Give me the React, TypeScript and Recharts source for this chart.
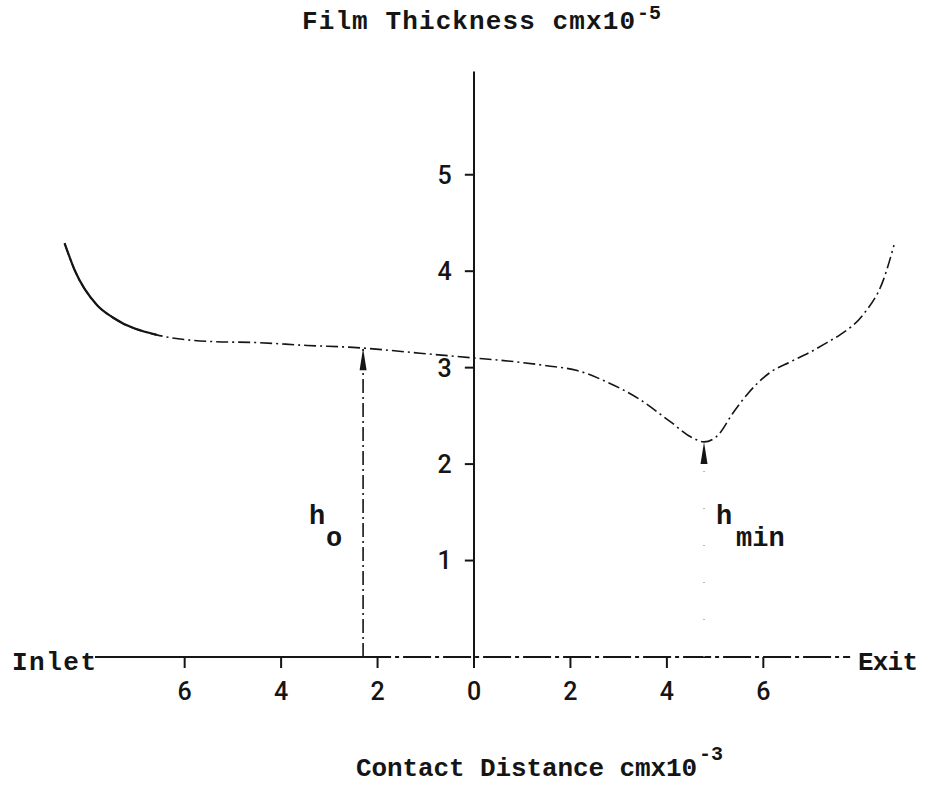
import React from 'react';
import { ComposedChart, Line, Scatter, XAxis, YAxis, ReferenceLine } from 'recharts';

// contact distance (cm x 10^-3, inlet side negative) and film thickness (cm x 10^-5)
const profileX = [
  -8.49, -8.28, -7.82, -7.49, -6.58, -5.41, -4.5, -3.46, -2.51, -1.12, 0,
  0.48, 1.51, 2.14, 2.76, 3.44, 4.07, 4.54, 4.77, 5.06, 5.37, 5.66, 6.14,
  6.56, 6.97, 7.32, 7.59, 8.07, 8.49, 8.71,
];
const profileH = [
  4.29, 4.01, 3.65, 3.52, 3.34, 3.27, 3.26, 3.23, 3.21, 3.15, 3.1,
  3.08, 3.02, 2.97, 2.85, 2.67, 2.44, 2.27, 2.23, 2.3, 2.53, 2.72, 2.95,
  3.06, 3.16, 3.26, 3.34, 3.55, 3.91, 4.27,
];

const xTicks = [-6, -4, -2, 0, 2, 4, 6];
const yTicks = [1, 2, 3, 4, 5];

// h_o at the inlet plateau, h_min at the exit constriction
const hoX = -2.3;
const hoH = 3.2;
const hminX = 4.77;
const hminH = 2.23;

const axisStart = -7.86;
const axisEnd = 7.8;
const axisTop = 6.07;

const W = 926;
const H = 798;
const INK = '#151515';
const MONO = "'Liberation Mono', 'DejaVu Sans Mono', monospace";
const DIGITS = "Roboto, 'Liberation Sans', sans-serif";

const profile = profileX.map((x, i) => ({ x, h: profileH[i] }));
const leadIn = profile.slice(0, 5);
const arrowTips = [
  { x: hoX, h: hoH },
  { x: hminX, h: hminH },
];

const ArrowHead = (props: any) => {
  const { cx, cy } = props;
  return <path d={`M${cx},${cy} L${cx + 3.5},${cy + 22} L${cx - 3.5},${cy + 22} Z`} fill={INK} />;
};

export default function App() {
  return (
    <div style={{ position: 'absolute', left: 0, top: 0, width: W, height: H, background: '#fff' }}>
      <ComposedChart width={W} height={H} margin={{ top: 59, right: 18, bottom: 0, left: 40 }}>
        <XAxis
          type="number"
          dataKey="x"
          domain={[-9, 9]}
          ticks={xTicks}
          interval={0}
          height={141}
          axisLine={false}
          tickLine={{ stroke: INK, strokeWidth: 2 }}
          tickSize={11}
          tickMargin={14}
          tickFormatter={(v: number) => String(Math.abs(v))}
          tick={{ fill: INK, fontSize: 25, fontFamily: DIGITS, fontWeight: 500 }}
        />
        <YAxis type="number" domain={[0, 6.2]} hide />

        <ReferenceLine segment={[{ x: axisStart, y: 0 }, { x: hoX, y: 0 }]} stroke={INK} strokeWidth={2.2} />
        <ReferenceLine
          segment={[{ x: hoX, y: 0 }, { x: axisEnd, y: 0 }]}
          stroke={INK}
          strokeWidth={2}
          strokeDasharray="28 4 4 4"
        />
        <ReferenceLine segment={[{ x: 0, y: 0 }, { x: 0, y: axisTop }]} stroke={INK} strokeWidth={2} />
        {yTicks.map((v) => (
          <ReferenceLine
            key={v}
            segment={[{ x: -0.19, y: v }, { x: 0, y: v }]}
            stroke={INK}
            strokeWidth={2}
            label={{ value: String(v), position: 'left', offset: 13, fill: INK, fontSize: 25, fontFamily: DIGITS, fontWeight: 500 }}
          />
        ))}

        <ReferenceLine
          segment={[{ x: hoX, y: 0 }, { x: hoX, y: hoH }]}
          stroke={INK}
          strokeWidth={1.6}
          strokeDasharray="14 4 2 4"
        />
        <ReferenceLine
          segment={[{ x: hminX, y: 0 }, { x: hminX, y: hminH - 0.2 }]}
          stroke="#9a9a9a"
          strokeWidth={1.4}
          strokeDasharray="1 36"
        />

        <Line
          data={profile}
          dataKey="h"
          type="monotone"
          stroke={INK}
          strokeWidth={1.6}
          strokeDasharray="12 4 2 4"
          dot={false}
          isAnimationActive={false}
        />
        <Line
          data={leadIn}
          dataKey="h"
          type="monotone"
          stroke={INK}
          strokeWidth={2.2}
          dot={false}
          isAnimationActive={false}
        />
        <Scatter data={arrowTips} dataKey="h" shape={ArrowHead} isAnimationActive={false} />
      </ComposedChart>

      <svg
        width={W}
        height={H}
        style={{ position: 'absolute', left: 0, top: 0, pointerEvents: 'none' }}
        fontFamily={MONO}
        fontWeight="bold"
        fill={INK}
      >
        <text x={302} y={29} fontSize={26} textLength={333} lengthAdjust="spacing">
          Film Thickness cmx10
        </text>
        <text x={637} y={19} fontSize={20}>-5</text>

        <text x={12} y={670} fontSize={26} textLength={84} lengthAdjust="spacing">Inlet</text>
        <text x={858} y={670} fontSize={26} textLength={60} lengthAdjust="spacing">Exit</text>

        <text x={309} y={524} fontSize={27}>h</text>
        <text x={326} y={546} fontSize={27}>o</text>
        <text x={716} y={524} fontSize={27}>h</text>
        <text x={736} y={546} fontSize={27}>min</text>

        <text x={356} y={776} fontSize={26} textLength={341} lengthAdjust="spacing">
          Contact Distance cmx10
        </text>
        <text x={699} y={760} fontSize={20}>-3</text>
      </svg>
    </div>
  );
}
